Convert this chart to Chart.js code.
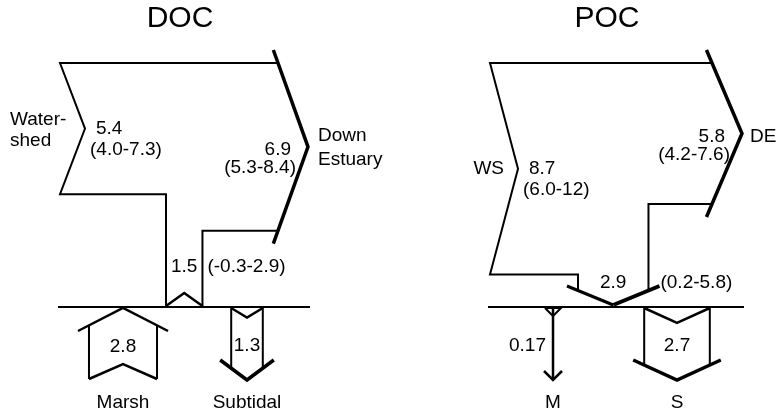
<!DOCTYPE html>
<html>
<head>
<meta charset="utf-8">
<script src="https://cdn.jsdelivr.net/npm/chart.js@4/dist/chart.umd.min.js"></script>
<style>
html, body { margin: 0; padding: 0; background: #fff; }
#wrap { width: 777px; height: 413px; }
</style>
</head>
<body>
<div id="wrap"><canvas id="flux"></canvas></div>
<script>
// fluxes, one entry per panel (DOC, POC)
var panels = ['DOC', 'POC'];
var inNames = [['Water-', 'shed'], ['WS']];
var inFlux = [5.4, 8.7];
var inRange = ['(4.0-7.3)', '(6.0-12)'];
var outNames = [['Down', 'Estuary'], ['DE']];
var outFlux = [6.9, 5.8];
var outRange = ['(5.3-8.4)', '(4.2-7.6)'];
var exFlux = [1.5, 2.9];
var exDir = ['up', 'down'];
var exRange = ['(-0.3-2.9)', '(0.2-5.8)'];
var marshNames = ['Marsh', 'M'];
var marshFlux = [2.8, 0.17];
var marshDir = ['up', 'down'];
var subNames = ['Subtidal', 'S'];
var subFlux = [1.3, 2.7];

// layout (scale units == px of the 777x413 page)
var K = 24.3;          // px per flux unit
var topY = 63, baseY = 307;
var layout = [
    { title: 180, left: 60, notch: 25, exX: 166, tip: 308, marsh: 123, sub: 247 },
    { title: 607, left: 490, notch: 28, exX: 578, tip: 742, marsh: 553, sub: 677 }
];

var segs = [];
var texts = [];
function seg(pts, w) { segs.push({ pts: pts, w: w || 2 }); }
function txt(s, x, y, align, size) { texts.push({ s: s, x: x, y: y, align: align || 'center', size: size || 19 }); }

function sinkArrow(cx, flux, dir, name) {
    var hw = flux * K / 2;
    var tipY = 380, tailY = 379;
    if (hw < 4) {
        seg([[cx, baseY], [cx, tipY]], 2.5);
        seg([[cx - 8, baseY + 1], [cx, baseY + 9], [cx + 8, baseY + 1], [cx - 8, baseY + 1]], 2);
        seg([[cx - 9, tipY - 9], [cx, tipY], [cx + 9, tipY - 9]], 2.5);
        txt(String(flux), cx - 7, 346, 'right');
    } else if (dir == 'down') {
        var nd = Math.min(15, hw * 0.6);
        var h = 20, e = 11;
        var j = tipY - h * hw / (hw + e);
        seg([[cx - hw, baseY + 1], [cx, baseY + 1 + nd], [cx + hw, baseY + 1]], 2.5);
        seg([[cx - hw, baseY], [cx - hw, j]], 2);
        seg([[cx + hw, baseY], [cx + hw, j]], 2);
        seg([[cx - hw - e, tipY - h], [cx, tipY], [cx + hw + e, tipY - h]], 3.5);
        txt(String(flux), cx, 346);
    } else {
        var nd2 = Math.min(15, hw * 0.6);
        var h2 = 23, e2 = 11;
        var top = baseY + 1;
        var j2 = top + h2 * hw / (hw + e2);
        seg([[cx - hw - e2, top + h2], [cx, top], [cx + hw + e2, top + h2]], 2.5);
        seg([[cx - hw, j2], [cx - hw, tailY]], 2);
        seg([[cx + hw, j2], [cx + hw, tailY]], 2);
        seg([[cx - hw, tailY], [cx, tailY - nd2], [cx + hw, tailY]], 2.5);
        txt(String(flux), cx, 347);
    }
    txt(name, cx, 403);
}

for (var i = 0; i < panels.length; i++) {
    var L = layout[i];
    var inBot = topY + inFlux[i] * K;
    var midIn = (topY + inBot) / 2;
    var vx = L.left + L.notch;
    var outBot = topY + outFlux[i] * K;
    var tipY = (topY + outBot) / 2;
    var D = 30, sideX = L.tip - D;
    var exL = L.exX, exR = exL + exFlux[i] * K;
    var exC = (exL + exR) / 2, exHW = (exR - exL) / 2;
    var endL, endR;

    // exchange with the bottom
    if (exDir[i] == 'up') {
        endL = endR = baseY;
        seg([[exL, baseY - 1], [exC, baseY - 14], [exR, baseY - 1]], 2.5);
        txt(String(exFlux[i]), exC, baseY - 40);
        txt(exRange[i], exR + 5, baseY - 40, 'left');
    } else {
        var h = 19, e = 11, tEx = baseY - 2;
        var jy = tEx - h * exHW / (exHW + e);
        endL = endR = jy;
        seg([[exL - e, tEx - h], [exC, tEx]], 3);
        seg([[exC, tEx], [exR + e, tEx - h]], 4);
        txt(String(exFlux[i]), exC, baseY - 24);
        txt(exRange[i], exR + 12, baseY - 24, 'left');
    }

    // box
    seg([[sideX, topY], [L.left, topY], [vx, midIn], [L.left, inBot], [exL, inBot], [exL, endL]], 2);
    seg([[exR, endR], [exR, outBot], [sideX, outBot]], 2);

    // outlet chevron
    var s = D / (tipY - topY), ext = 13;
    seg([[sideX - s * ext, topY - ext], [L.tip, tipY], [sideX - s * ext, outBot + ext]], 3.5);

    // bottom line
    seg([[L.left - 2, baseY], [L.tip + 2, baseY]], 2);

    sinkArrow(L.marsh, marshFlux[i], marshDir[i], marshNames[i]);
    sinkArrow(L.sub, subFlux[i], 'down', subNames[i]);

    // labels
    txt(panels[i], L.title, 19, 'center', 30);
    var names = inNames[i];
    if (names.length > 1) {
        txt(names[0], vx - 75, midIn - 9, 'left');
        txt(names[1], vx - 75, midIn + 12, 'left');
    } else {
        txt(names[0], vx - 14, midIn, 'right');
    }
    txt(String(inFlux[i]), vx + 11, midIn, 'left');
    txt(inRange[i], vx + 5, midIn + 21, 'left');
    txt(String(outFlux[i]), L.tip - 17, tipY + 3, 'right');
    txt(outRange[i], L.tip - 12, tipY + 21, 'right');
    var on = outNames[i];
    if (on.length > 1) {
        txt(on[0], L.tip + 10, tipY - 11, 'left');
        txt(on[1], L.tip + 10, tipY + 13, 'left');
    } else {
        txt(on[0], L.tip + 8, tipY + 3, 'left');
    }
}

var datasets = segs.map(function (g) {
    return {
        data: g.pts.map(function (p) { return { x: p[0], y: p[1] }; }),
        showLine: true,
        borderColor: '#000',
        borderWidth: g.w,
        pointRadius: 0,
        fill: false,
        tension: 0,
        borderJoinStyle: 'miter',
        borderCapStyle: 'butt'
    };
});

var labelPlugin = {
    id: 'labels',
    afterDatasetsDraw: function (chart) {
        var c = chart.ctx, sx = chart.scales.x, sy = chart.scales.y;
        c.save();
        c.fillStyle = '#000';
        c.textBaseline = 'middle';
        texts.forEach(function (t) {
            c.font = t.size + 'px "Liberation Sans", Arial, Helvetica, sans-serif';
            c.textAlign = t.align;
            c.fillText(t.s, sx.getPixelForValue(t.x), sy.getPixelForValue(t.y));
        });
        c.restore();
    }
};

new Chart(document.getElementById('flux'), {
    type: 'scatter',
    data: { datasets: datasets },
    options: {
        responsive: true,
        maintainAspectRatio: false,
        animation: false,
        layout: { padding: 0 },
        scales: {
            x: { type: 'linear', min: 0, max: 777, display: false },
            y: { type: 'linear', min: 0, max: 413, reverse: true, display: false }
        },
        plugins: { legend: { display: false }, tooltip: { enabled: false } }
    },
    plugins: [labelPlugin]
});
</script>
</body>
</html>
